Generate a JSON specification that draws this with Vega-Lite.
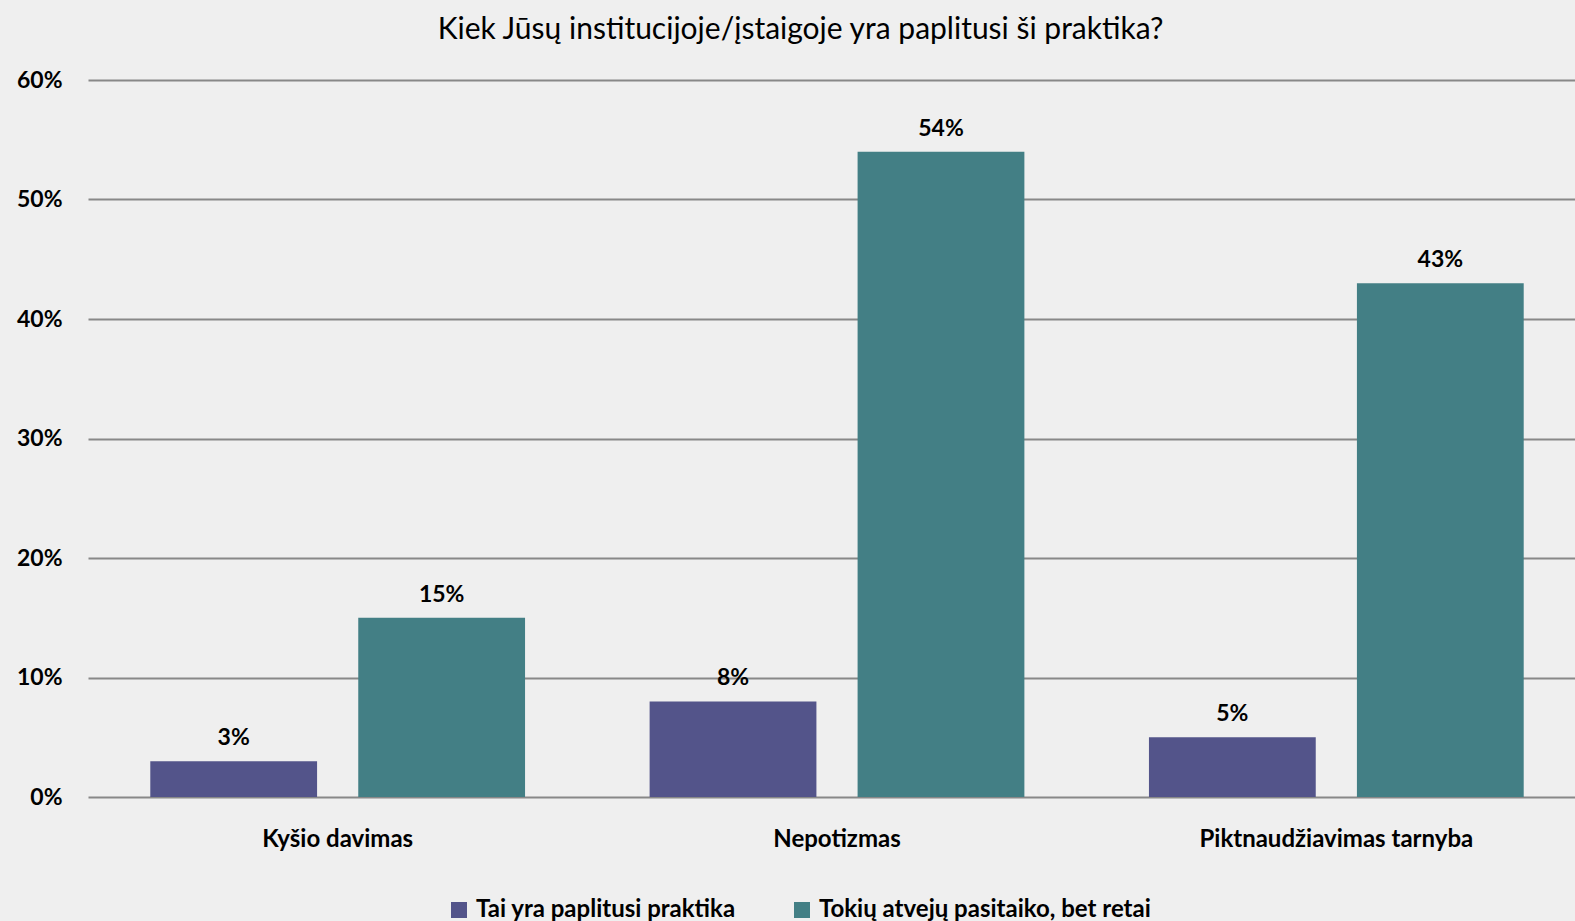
{
  "$schema": "https://vega.github.io/schema/vega-lite/v6.json",
  "width": 1489,
  "height": 717,
  "autosize": {"type": "none"},
  "padding": {"left": 86, "top": 80, "right": 0, "bottom": 124},
  "background": "#efefef",
  "title": {
    "text": "Kiek Jūsų institucijoje/įstaigoje yra paplitusi ši praktika?",
    "font": "Lato",
    "fontSize": 30,
    "fontWeight": "normal",
    "color": "#000000",
    "anchor": "middle",
    "frame": "group",
    "dx": -30,
    "offset": 24
  },
  "config": {
    "view": {"stroke": null},
    "font": "Lato"
  },
  "data": {
    "values": [
      {"kategorija": "Kyšio davimas", "atsakymas": "Tai yra paplitusi praktika", "dalis": 0.03},
      {"kategorija": "Kyšio davimas", "atsakymas": "Tokių atvejų pasitaiko, bet retai", "dalis": 0.15},
      {"kategorija": "Nepotizmas", "atsakymas": "Tai yra paplitusi praktika", "dalis": 0.08},
      {"kategorija": "Nepotizmas", "atsakymas": "Tokių atvejų pasitaiko, bet retai", "dalis": 0.54},
      {"kategorija": "Piktnaudžiavimas tarnyba", "atsakymas": "Tai yra paplitusi praktika", "dalis": 0.05},
      {"kategorija": "Piktnaudžiavimas tarnyba", "atsakymas": "Tokių atvejų pasitaiko, bet retai", "dalis": 0.43}
    ]
  },
  "encoding": {
    "x": {
      "field": "kategorija",
      "type": "nominal",
      "sort": ["Kyšio davimas", "Nepotizmas", "Piktnaudžiavimas tarnyba"],
      "scale": {"range": [2, 1500], "paddingInner": 0, "paddingOuter": 0},
      "axis": {
        "title": null,
        "labelAngle": 0,
        "labelFont": "Lato",
        "labelFontSize": 24,
        "labelFontWeight": "bold",
        "labelColor": "#000000",
        "labelLimit": 0,
        "ticks": false,
        "domain": false,
        "labelPadding": 30
      }
    },
    "xOffset": {
      "field": "atsakymas",
      "type": "nominal",
      "sort": ["Tai yra paplitusi praktika", "Tokių atvejų pasitaiko, bet retai"],
      "scale": {"paddingInner": 0.198, "paddingOuter": 0.2995}
    },
    "y": {
      "field": "dalis",
      "type": "quantitative",
      "scale": {"domain": [0, 0.6], "nice": false},
      "axis": {
        "title": null,
        "values": [0, 0.1, 0.2, 0.3, 0.4, 0.5, 0.6],
        "format": ".0%",
        "labelFont": "Lato",
        "labelFontSize": 23,
        "labelFontWeight": "bold",
        "labelColor": "#000000",
        "labelPadding": 24,
        "ticks": false,
        "domain": false,
        "grid": true,
        "gridColor": "#888888",
        "gridWidth": 2,
        "gridOpacity": 1
      }
    }
  },
  "layer": [
    {
      "mark": {"type": "bar"},
      "encoding": {
        "color": {
          "field": "atsakymas",
          "type": "nominal",
          "sort": ["Tai yra paplitusi praktika", "Tokių atvejų pasitaiko, bet retai"],
          "scale": {
            "domain": ["Tai yra paplitusi praktika", "Tokių atvejų pasitaiko, bet retai"],
            "range": ["#53548a", "#437f85"]
          },
          "legend": {
            "title": null,
            "orient": "none",
            "direction": "horizontal",
            "legendX": 361,
            "legendY": 818,
            "symbolType": "square",
            "symbolSize": 256,
            "symbolOpacity": 1,
            "symbolStrokeWidth": 0,
            "labelFont": "Lato",
            "labelFontSize": 24,
            "labelFontWeight": "bold",
            "labelColor": "#000000",
            "labelLimit": 0,
            "labelOffset": 5,
            "columnPadding": 54
          }
        }
      }
    },
    {
      "mark": {
        "type": "text",
        "baseline": "alphabetic",
        "dy": -16,
        "font": "Lato",
        "fontSize": 23,
        "fontWeight": "bold",
        "color": "#000000"
      },
      "encoding": {
        "text": {"field": "dalis", "type": "quantitative", "format": ".0%"}
      }
    }
  ]
}
